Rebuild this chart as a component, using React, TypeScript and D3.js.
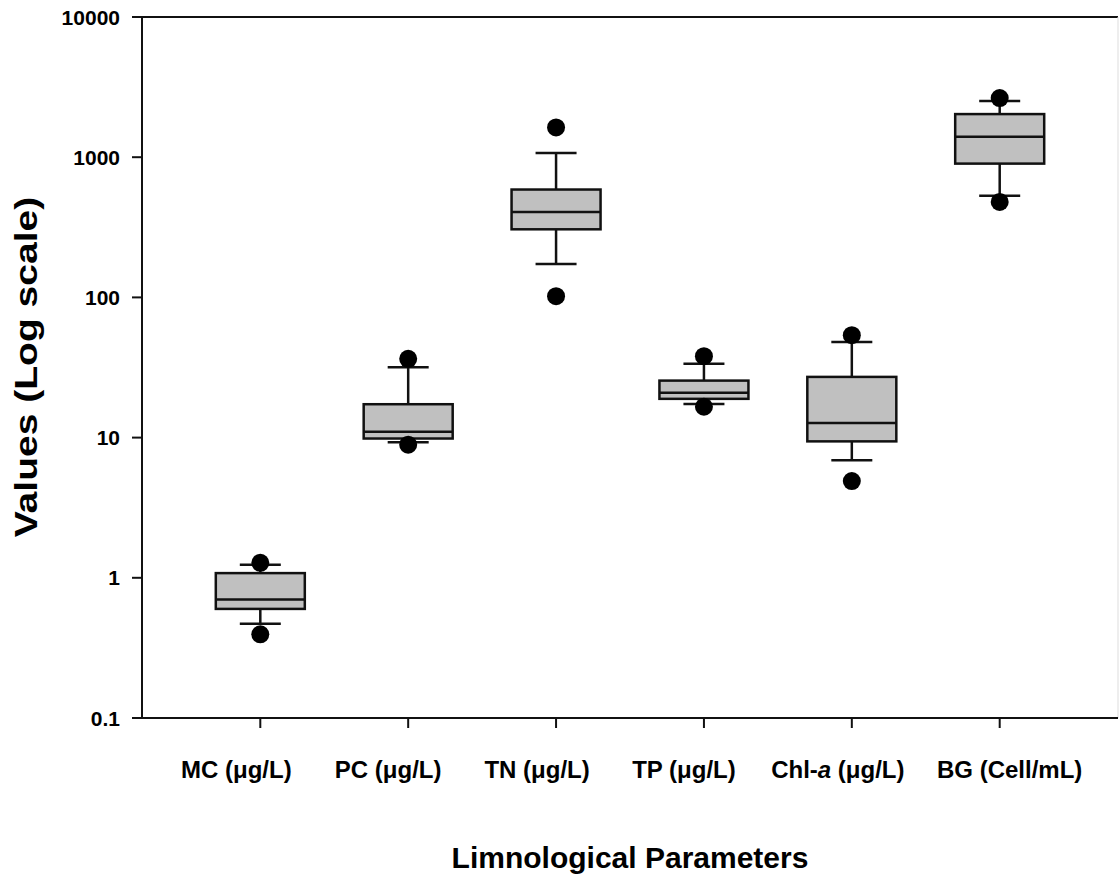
import React, { useEffect, useRef } from "react";
import * as d3 from "d3";

const categories = ["MC", "PC", "TN", "TP", "Chl-a", "BG"];
const units = ["(μg/L)", "(μg/L)", "(μg/L)", "(μg/L)", "(μg/L)", "(Cell/mL)"];
const whiskerLow = [0.47, 9.25, 173, 17.4, 6.9, 530];
const q1 = [0.6, 9.85, 306, 18.9, 9.4, 900];
const median = [0.7, 11.0, 407, 20.9, 12.7, 1400];
const q3 = [1.08, 17.3, 588, 25.5, 27.1, 2030];
const whiskerHigh = [1.24, 31.8, 1070, 33.6, 48, 2520];
const outlierLow = [0.395, 8.9, 102, 16.6, 4.9, 480];
const outlierHigh = [1.28, 36.5, 1630, 38.1, 53.8, 2640];
const yTicks = [0.1, 1, 10, 100, 1000, 10000];
const yTickLabels = ["0.1", "1", "10", "100", "1000", "10000"];

const width = 1119, height = 879;
const left = 142, top = 17, right = 1118, bottom = 718;
const font = "'Liberation Sans', Arial, sans-serif";
// the category labels are not centred exactly on their ticks in the original
const labelShift = [-24, -20, -19, -20, -14, 10];

export default function App() {
  const ref = useRef<SVGSVGElement>(null);

  useEffect(() => {
    const svg = d3.select(ref.current);
    svg.selectAll("*").remove();

    const x = d3.scalePoint<string>().domain(categories).range([left, right]).padding(0.8);
    const y = d3.scaleLog().domain([0.1, 10000]).range([bottom, top]);
    const boxW = 89, capW = 41;

    // frame
    svg.append("line").attr("x1", left).attr("x2", right).attr("y1", top).attr("y2", top)
      .attr("stroke", "#111").attr("stroke-width", 2);
    svg.append("line").attr("x1", right).attr("x2", right).attr("y1", top).attr("y2", bottom)
      .attr("stroke", "#ddd").attr("stroke-width", 1);

    // y axis
    svg.append("line").attr("x1", left).attr("x2", left).attr("y1", top - 1).attr("y2", bottom + 1)
      .attr("stroke", "#111").attr("stroke-width", 2);
    yTicks.forEach((t, i) => {
      svg.append("line").attr("x1", left - 10).attr("x2", left).attr("y1", y(t)).attr("y2", y(t))
        .attr("stroke", "#111").attr("stroke-width", 2);
      svg.append("text").attr("x", left - 22).attr("y", y(t)).attr("dy", "0.36em")
        .attr("text-anchor", "end").style("font-family", font).style("font-weight", "bold")
        .style("font-size", "21px").text(yTickLabels[i]);
    });

    // x axis
    svg.append("line").attr("x1", left).attr("x2", right).attr("y1", bottom).attr("y2", bottom)
      .attr("stroke", "#111").attr("stroke-width", 2);
    categories.forEach((c, i) => {
      const cx = x(c)!;
      svg.append("line").attr("x1", cx).attr("x2", cx).attr("y1", bottom).attr("y2", bottom + 10)
        .attr("stroke", "#111").attr("stroke-width", 2);
      const t = svg.append("text").attr("x", cx + labelShift[i]).attr("y", 778).attr("text-anchor", "middle")
        .style("font-family", font).style("font-weight", "bold").style("font-size", "24px");
      if (c === "Chl-a") {
        t.append("tspan").text("Chl-");
        t.append("tspan").style("font-style", "italic").text("a");
        t.append("tspan").text(" " + units[i]);
      } else {
        t.text(c + " " + units[i]);
      }
    });

    // boxes
    categories.forEach((c, i) => {
      const cx = x(c)!;
      const g = svg.append("g").attr("stroke", "#111").attr("stroke-width", 2.5);
      g.append("line").attr("x1", cx).attr("x2", cx).attr("y1", y(whiskerHigh[i])).attr("y2", y(q3[i]));
      g.append("line").attr("x1", cx).attr("x2", cx).attr("y1", y(q1[i])).attr("y2", y(whiskerLow[i]));
      g.append("line").attr("x1", cx - capW / 2).attr("x2", cx + capW / 2)
        .attr("y1", y(whiskerHigh[i])).attr("y2", y(whiskerHigh[i]));
      g.append("line").attr("x1", cx - capW / 2).attr("x2", cx + capW / 2)
        .attr("y1", y(whiskerLow[i])).attr("y2", y(whiskerLow[i]));
      g.append("rect").attr("x", cx - boxW / 2).attr("width", boxW)
        .attr("y", y(q3[i])).attr("height", y(q1[i]) - y(q3[i])).attr("fill", "#c0c0c0");
      g.append("line").attr("x1", cx - boxW / 2).attr("x2", cx + boxW / 2)
        .attr("y1", y(median[i])).attr("y2", y(median[i]));
      [outlierLow[i], outlierHigh[i]].forEach(v => {
        svg.append("circle").attr("cx", cx).attr("cy", y(v)).attr("r", 9).attr("fill", "#000");
      });
    });

    // titles
    svg.append("text").attr("x", (left + right) / 2).attr("y", 868).attr("text-anchor", "middle")
      .style("font-family", font).style("font-weight", "bold").style("font-size", "30px")
      .text("Limnological Parameters");
    svg.append("text").attr("transform", "translate(37,367) rotate(-90) scale(1.22,1)")
      .attr("text-anchor", "middle")
      .style("font-family", font).style("font-weight", "bold").style("font-size", "32px")
      .text("Values (Log scale)");
  }, []);

  return (
    <svg ref={ref} width={width} height={height}
      style={{ position: "absolute", left: 0, top: 0, background: "#fff" }} />
  );
}
